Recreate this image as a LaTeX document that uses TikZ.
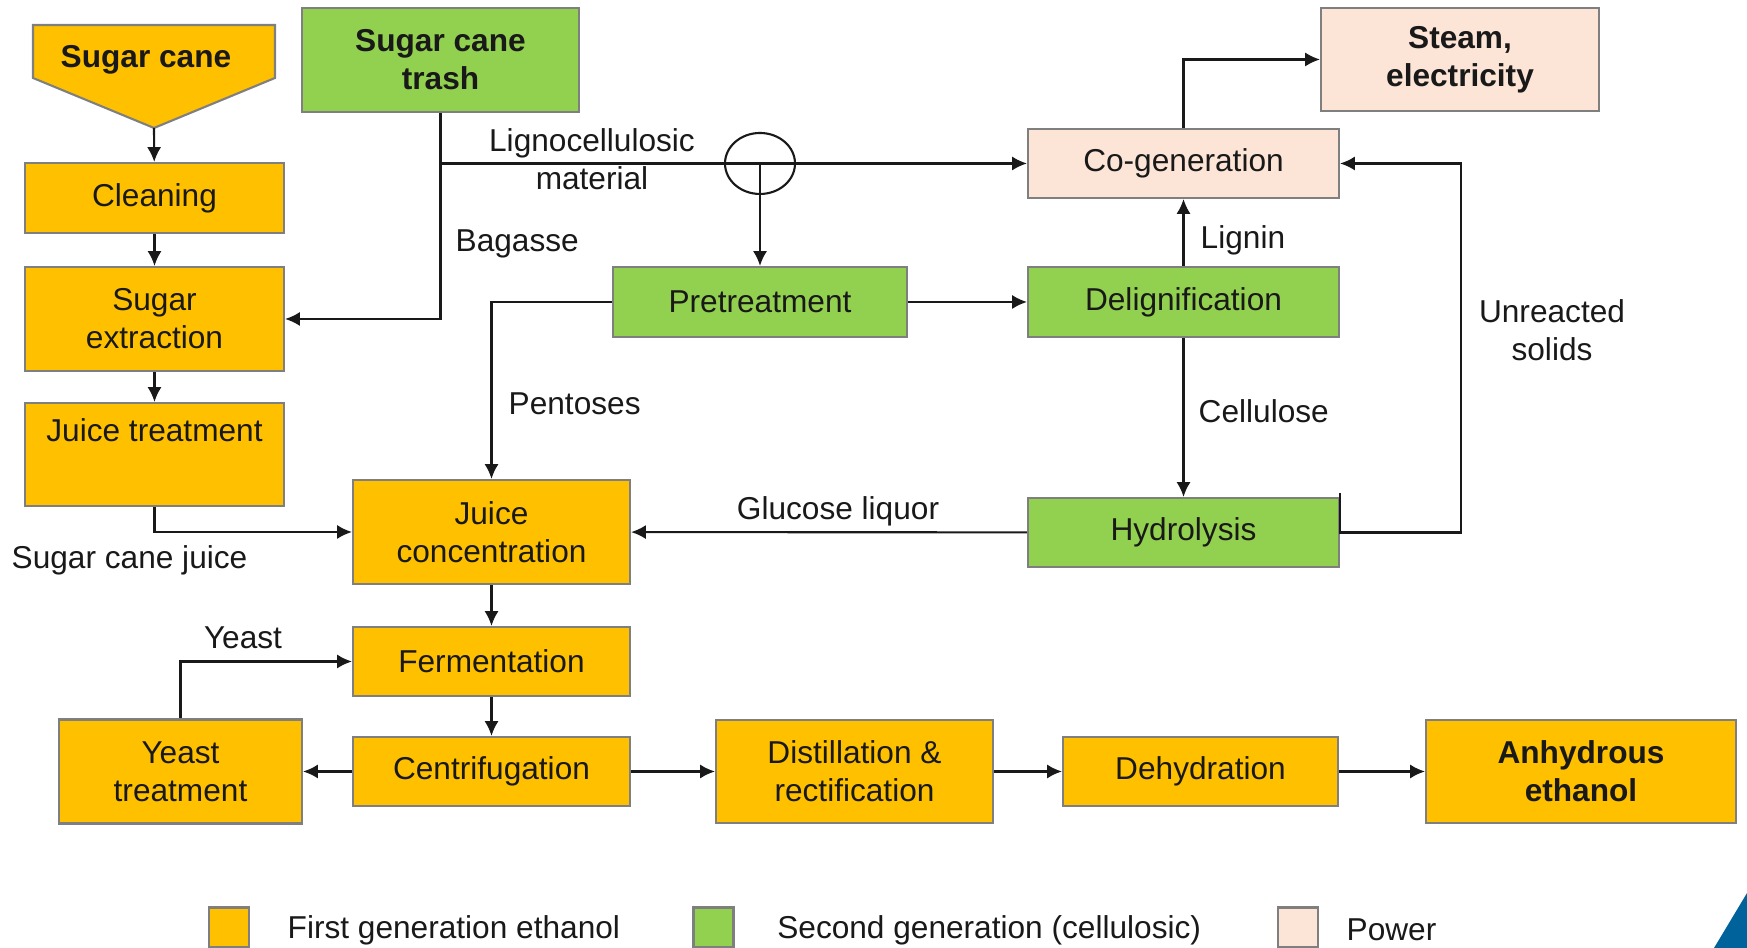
\documentclass[tikz,border=0pt]{standalone}
\usepackage{fontspec}
\setmainfont{Liberation Sans}
\usepackage{tikz}
\usetikzlibrary{arrows.meta,calc}

\definecolor{firstgen}{HTML}{FFC000}
\definecolor{secondgen}{HTML}{92D050}
\definecolor{powercol}{HTML}{FCE4D6}
\definecolor{boxline}{HTML}{7F7F7F}
\definecolor{logoblue}{HTML}{00629B}

\tikzset{
  stage/.style={draw=boxline, line width=0.6pt, align=center, inner sep=0pt, text=black!90},
  fgen/.style={stage, fill=firstgen},
  sgen/.style={stage, fill=secondgen},
  pwr/.style={stage, fill=powercol},
  lbl/.style={inner sep=0pt, align=center, text=black!90},
  arr/.style={-{Latex[length=4.2pt,width=4pt]}, line width=0.6pt, draw=black!90},
}

\begin{document}
\begin{tikzpicture}[font=\fontsize{9}{10.8}\selectfont]
\useasboundingbox (0,0) rectangle (17.47,9.48);

% first generation line
\filldraw[fill=firstgen, draw=boxline, line width=0.6pt]
  (0.33,9.23) -- (2.75,9.23) -- (2.75,8.70) -- (1.54,8.20) -- (0.33,8.70) -- cycle;
\node[lbl, font=\fontsize{9}{10.8}\selectfont\bfseries] (cane) at (1.46,8.88) {Sugar cane};
\coordinate (canetip) at (1.54,8.20);
\node[fgen, minimum width=2.59cm, minimum height=0.70cm] (clean) at (1.545,7.50) {Cleaning};
\node[fgen, minimum width=2.59cm, minimum height=1.04cm] (extr) at (1.545,6.29) {Sugar\\extraction};
\node[fgen, minimum width=2.59cm, minimum height=1.03cm] (juicet) at (1.545,4.935) {Juice treatment\\\strut};
\node[fgen, minimum width=2.77cm, minimum height=1.04cm] (conc) at (4.915,4.16) {Juice\\concentration};
\node[fgen, minimum width=2.77cm, minimum height=0.69cm] (ferm) at (4.915,2.865) {Fermentation};
\node[fgen, minimum width=2.77cm, minimum height=0.69cm] (centr) at (4.915,1.765) {Centrifugation};
\node[fgen, minimum width=2.43cm, minimum height=1.04cm] (yeastt) at (1.805,1.765) {Yeast\\treatment};
\node[fgen, minimum width=2.77cm, minimum height=1.03cm] (dist) at (8.545,1.765) {Distillation \&\\rectification};
\node[fgen, minimum width=2.75cm, minimum height=0.69cm] (dehyd) at (12.005,1.765) {Dehydration};
\node[fgen, minimum width=3.10cm, minimum height=1.03cm, font=\fontsize{9}{10.8}\selectfont\bfseries] (anh) at (15.81,1.765) {Anhydrous\\ethanol};

% second generation and power
\node[sgen, minimum width=2.77cm, minimum height=1.04cm, font=\fontsize{9}{10.8}\selectfont\bfseries] (trash) at (4.405,8.88) {Sugar cane\\trash};
\node[sgen, minimum width=2.94cm, minimum height=0.70cm] (pre) at (7.60,6.46) {Pretreatment};
\node[sgen, minimum width=3.11cm, minimum height=0.70cm] (delig) at (11.835,6.46) {Delignification};
\node[sgen, minimum width=3.11cm, minimum height=0.69cm] (hyd) at (11.835,4.155) {Hydrolysis};
\node[pwr, minimum width=3.11cm, minimum height=0.69cm] (cogen) at (11.835,7.845) {Co-generation};
\node[pwr, minimum width=2.78cm, minimum height=1.03cm, font=\fontsize{9}{10.8}\selectfont\bfseries] (steam) at (14.60,8.885) {Steam,\\electricity};

% labels
\node[lbl] (lignolab) at (5.92,7.89) {Lignocellulosic\\material};
\node[lbl, anchor=west] (baglab) at (4.55,7.04) {Bagasse};
\node[lbl, anchor=west] (pentlab) at (5.08,5.44) {Pentoses};
\node[lbl, anchor=west] (ligninlab) at (12.0,7.08) {Lignin};
\node[lbl, anchor=west] (celllab) at (11.98,5.37) {Cellulose};
\node[lbl] (unrlab) at (15.52,6.18) {Unreacted\\solids};
\node[lbl] (glulab) at (8.38,4.37) {Glucose liquor};
\node[lbl, anchor=west] (juicelab) at (0.11,3.88) {Sugar cane juice};
\node[lbl] (yeastlab) at (2.43,3.10) {Yeast};

% connectors
\draw[arr] (canetip) -- (clean);
\draw[arr] (clean) -- (extr);
\draw[arr] (extr) -- (juicet);
\draw[arr] (juicet.south) |- (conc.west);
\draw[arr] (trash.south) |- (extr.east);
\draw[arr] (trash.south |- cogen.west) -- (cogen.west);
\coordinate (split) at (pre.north |- cogen.west);
\draw[line width=0.6pt, draw=black!90] (split) ellipse [x radius=0.35cm, y radius=0.305cm];
\draw[arr] (split) -- (pre.north);
\draw[arr] (pre.west) -| (conc.north);
\draw[arr] (pre) -- (delig);
\draw[arr] (delig) -- (cogen);
\draw[arr] (delig) -- (hyd);
\draw[arr] (hyd) -- (conc);
\draw[arr] ([yshift=0.04cm]hyd.north east) -- (hyd.east) -- ++(1.21,0) |- (cogen.east);
\draw[arr] (cogen.north) |- (steam.west);
\draw[arr] (conc) -- (ferm);
\draw[arr] (ferm) -- (centr);
\draw[arr] (centr) -- (yeastt);
\draw[arr] (yeastt.north) |- (ferm.west);
\draw[arr] (centr) -- (dist);
\draw[arr] (dist) -- (dehyd);
\draw[arr] (dehyd) -- (anh);

% legend
\node[fgen, minimum size=0.40cm] (keyfirst) at (2.286,0.205) {};
\node[lbl, anchor=west] (keyfirstlab) at (2.87,0.18) {First generation ethanol};
\node[sgen, minimum size=0.40cm] (keysecond) at (7.135,0.205) {};
\node[lbl, anchor=west] (keysecondlab) at (7.766,0.18) {Second generation (cellulosic)};
\node[pwr, minimum size=0.40cm] (keypower) at (12.98,0.205) {};
\node[lbl, anchor=west] (keypowerlab) at (13.46,0.18) {Power};

\fill[logoblue] (17.47,0.55) -- (17.14,0) -- (17.47,0) -- cycle;
\end{tikzpicture}
\end{document}
